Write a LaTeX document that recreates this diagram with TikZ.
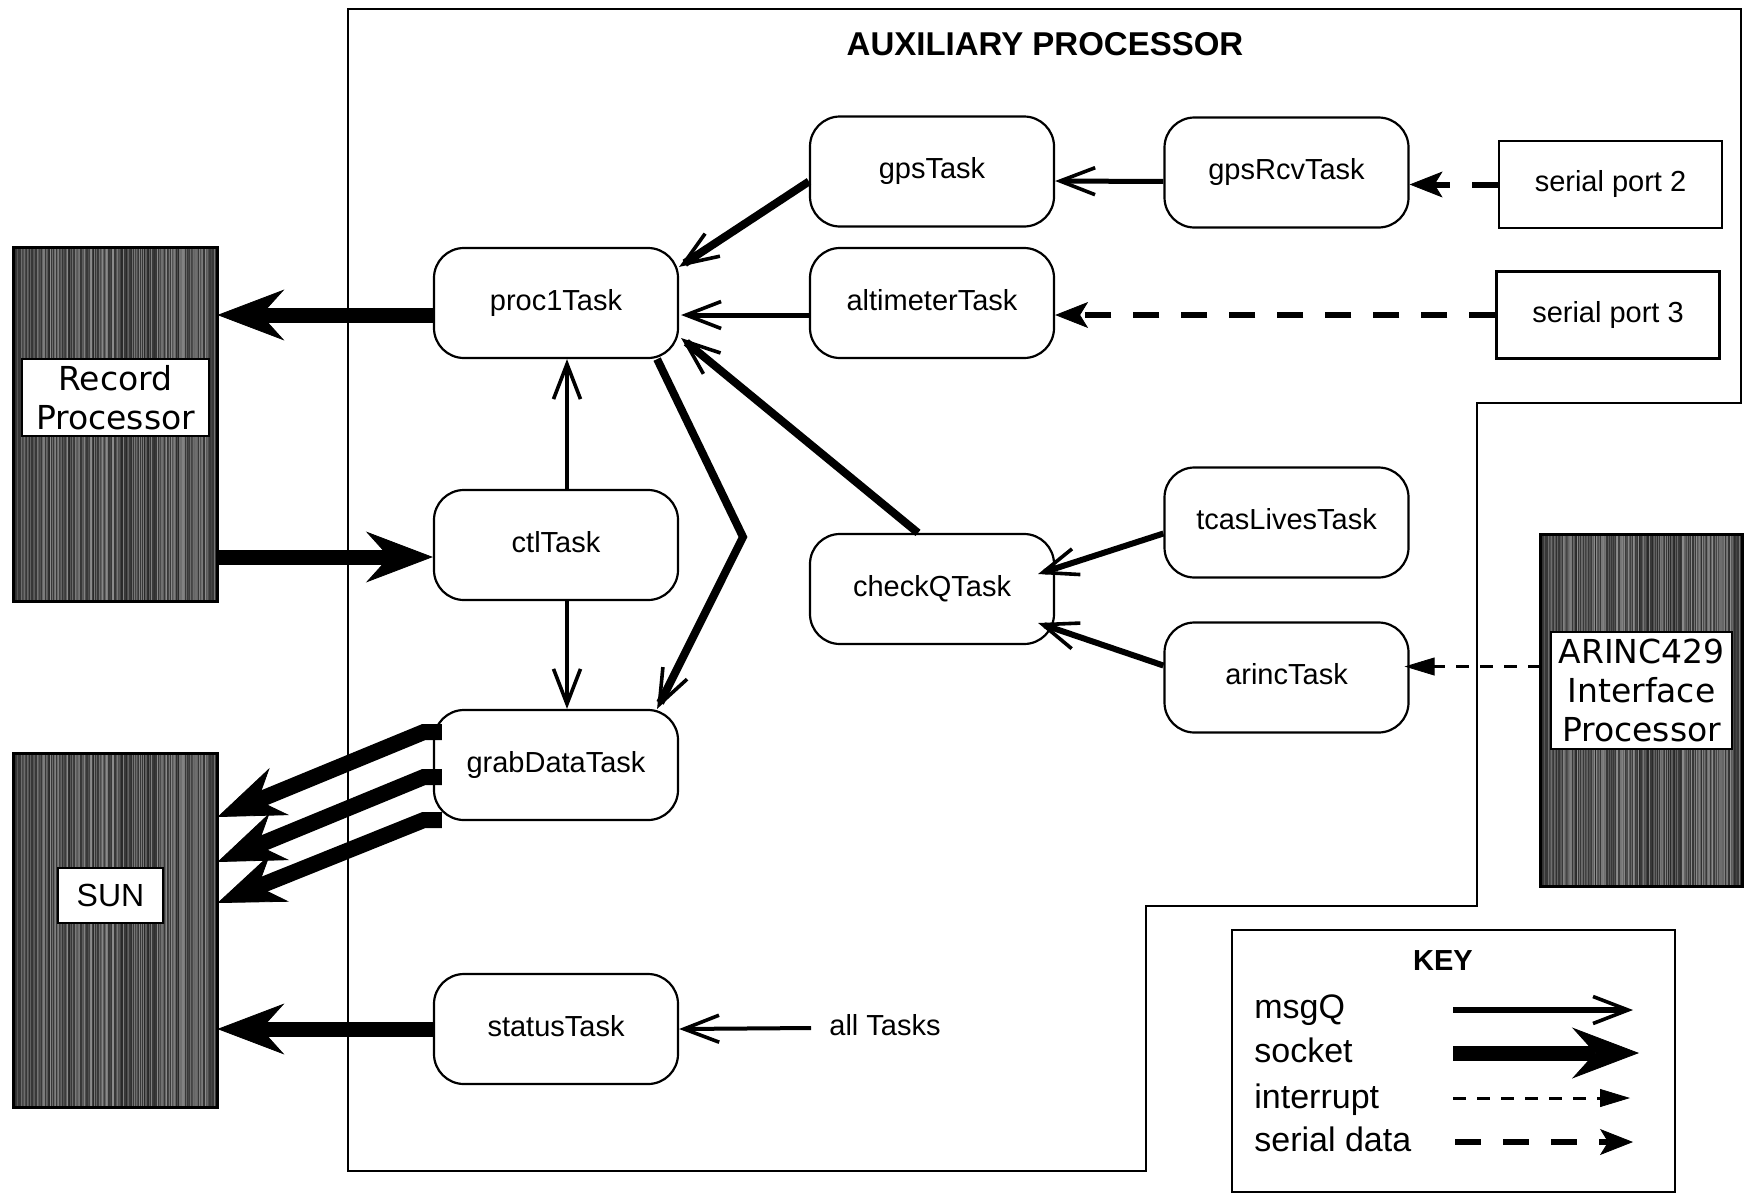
\documentclass[tikz,border=0pt]{standalone}
\usepackage{fontspec}
\setmainfont{Liberation Sans}
\newfontfamily\genevafont{DejaVu Sans}
\usetikzlibrary{arrows.meta,calc}

\newcommand\taskfont{\fontsize{14.5}{17}\selectfont}
\newcommand\boxlabelfont{\genevafont\fontsize{16.5}{19.5}\selectfont}
\newcommand\titlefont{\bfseries\fontsize{16.5}{19}\selectfont}
\newcommand\keytitlefont{\bfseries\fontsize{14.5}{17}\selectfont}
\newcommand\keyfont{\fontsize{17}{20}\selectfont}

\newcommand\drawtexture[1]{%
  \begin{scope}
    \clip (#1.south west) rectangle (#1.north east);
    \pgfmathsetseed{7}
    \foreach \k in {1,...,320}{
      \pgfmathsetmacro\tx{rnd}
      \pgfmathtruncatemacro\tg{45+40*rnd}
      \pgfmathsetmacro\tw{0.15+0.5*rnd}
      \draw[black!\tg, line width=\tw pt]
        ($(#1.south west)!\tx!(#1.south east)$) -- ($(#1.north west)!\tx!(#1.north east)$);
    }
  \end{scope}
  \draw[line width=1.2pt] (#1.south west) rectangle (#1.north east);
}

\begin{document}
\begin{tikzpicture}[x=0.5pt,y=-0.5pt,
  task/.style={draw, line width=1.1pt, rounded corners=15pt, fill=white,
    minimum width=122pt, minimum height=55pt, inner sep=0pt,
    font=\taskfont, text height=0.72em, text depth=0pt},
  port/.style={draw, line width=1.1pt, fill=white,
    minimum width=111.5pt, minimum height=43.5pt, inner sep=0pt,
    font=\taskfont, text height=0.72em, text depth=0pt},
  darkbox/.style={fill=black!78, inner sep=0pt},
  labelbox/.style={draw, line width=1pt, fill=white, inner sep=1pt, font=\boxlabelfont, align=center},
  msgq/.style={line width=2.5pt, -{Straight Barb[length=17.5pt, width=13.5pt, line width=1.8pt]}},
  socket/.style={line width=7.5pt, -{Stealth[length=33.5pt, width=25.5pt, inset=11.5pt, line width=0.4pt]}},
  serial/.style={line width=3pt, dash pattern=on 13pt off 11pt,
    -{Stealth[length=16.5pt, width=13pt, inset=4pt, line width=0.4pt]}},
  interrupt/.style={line width=1.5pt, dash pattern=on 6.5pt off 5.5pt,
    -{Triangle[length=15pt, width=9pt, line width=0.4pt]}},
  keylabel/.style={font=\keyfont, inner sep=0pt, anchor=base west}
]
\useasboundingbox (0,0) rectangle (1744,1194);

% auxiliary processor outline
\draw[line width=1.3pt] (348,9) -- (1741,9) -- (1741,403) -- (1477,403) -- (1477,906)
  -- (1146,906) -- (1146,1171) -- (348,1171) -- cycle;
\node[font=\titlefont] (title) at (1045,44) {AUXILIARY PROCESSOR};

% external processors
\node[darkbox, minimum width=101.5pt, minimum height=176.5pt] (rec) at (115.5,424.5) {};
\drawtexture{rec}
\node[labelbox, minimum width=93.5pt, minimum height=38.5pt] (reclabel) at (115.5,397.5) {Record\\Processor};

\node[darkbox, minimum width=101.5pt, minimum height=176.5pt] (sun) at (115.5,930.5) {};
\drawtexture{sun}
\node[labelbox, font=\fontsize{16}{19}\selectfont, minimum width=52.5pt, minimum height=27.5pt] (sunlabel) at (110.5,895.5) {SUN};

\node[darkbox, minimum width=100.5pt, minimum height=175.5pt] (arincbox) at (1641.5,710.5) {};
\drawtexture{arincbox}
\node[labelbox, minimum width=90.5pt, minimum height=58.5pt] (arinclabel) at (1641.5,690.5) {ARINC429\\Interface\\Processor};

% tasks
\node[task] (gps)    at (932,171.5)    {gpsTask};
\node[task] (gpsRcv) at (1286.5,172.5) {gpsRcvTask};
\node[task] (proc1)  at (556,303)      {proc1Task};
\node[task] (alt)    at (932,303)      {altimeterTask};
\node[task] (ctl)    at (556,545)      {ctlTask};
\node[task] (tcas)   at (1286.5,522.5) {tcasLivesTask};
\node[task] (checkQ) at (932,589)      {checkQTask};
\node[task] (arinc)  at (1286.5,677.5) {arincTask};
\node[task] (grab)   at (556,765)      {grabDataTask};
\node[task] (status) at (556,1029)     {statusTask};

\node[port] (sp2) at (1610.5,184.5) {serial port 2};
\node[port] (sp3) at (1608,315)     {serial port 3};

\node[font=\taskfont, inner xsep=9pt, text height=0.72em, text depth=0pt] (all) at (885,1028) {all Tasks};

% connectors
\coordinate (procout) at ($(proc1.west)+(0,12)$);
\draw[socket] (procout) -- (procout -| rec.east);
\coordinate (ctlin) at ($(ctl.west)+(0,12)$);
\draw[socket] (rec.east |- ctlin) -- (ctlin);
\draw[socket] (status.west) -- (status.west -| sun.east);

\draw[socket, line width=8pt] ($(grab.west)+(9,-33)$) -- ++(-18,0) -- ($(sun.east)+(0,-113.5)$);
\draw[socket, line width=8pt] ($(grab.west)+(9,12)$) -- ++(-18,0) -- ($(sun.east)+(0,-68.5)$);
\draw[socket, line width=8pt] ($(grab.west)+(9,55)$) -- ++(-18,0) -- ($(sun.east)+(0,-27.5)$);

\draw[msgq, line width=4pt] ($(gps.west)+(0,10)$) -- ($(proc1.north east)+(0,20)$);
\draw[msgq] ($(alt.west)+(0,12)$) -- ($(proc1.east)+(2,12)$);
\draw[msgq, line width=4pt] ($(checkQ.north)+(-14,0)$) -- ($(proc1.east)+(2,35)$);
\coordinate (bend) at (743,537);
\draw[msgq, line width=4pt] ($(proc1.south east)+(-22,0)$) -- (bend) -- ($(grab.north east)+(-22,0)$);
\draw[msgq, line width=2pt] ($(ctl.north)+(11,0)$) -- ($(proc1.south)+(11,0)$);
\draw[msgq, line width=2pt] ($(ctl.south)+(11,0)$) -- ($(grab.north)+(11,0)$);
\draw[msgq] ($(gpsRcv.west)+(0,9)$) -- ($(gps.east)+(0,9.5)$);
\draw[serial] (sp2.west) -- ($(gpsRcv.east)+(0,12)$);
\draw[serial] (sp3.west) -- ($(alt.east)+(0,12)$);
\draw[msgq, line width=3pt] ($(tcas.west)+(0,11)$) -- ($(checkQ.east)+(-17,-15)$);
\draw[msgq, line width=3pt] ($(arinc.west)+(0,-12)$) -- ($(checkQ.east)+(-17,34)$);
\coordinate (ain) at ($(arinc.east)+(-5,-11)$);
\draw[interrupt] (arincbox.west |- ain) -- (ain);
\draw[msgq, line width=2pt] (all.west) -- (status.east);

% key
\node[draw, line width=1.1pt, minimum width=221.5pt, minimum height=131pt, inner sep=0pt] (key) at (1453.5,1061) {};
\node[font=\keytitlefont] (keyt) at (1443,961) {KEY};
\node[keylabel] (lmsg) at (1254,1018) {msgQ};
\node[keylabel] (lsock) at (1254,1062) {socket};
\node[keylabel] (lint) at (1254,1108) {interrupt};
\node[keylabel] (lser) at (1254,1151) {serial data};
\coordinate (k1a) at (1453,1010); \coordinate (k1b) at (1633,1010);
\coordinate (k2a) at (1453,1053); \coordinate (k2b) at (1639,1053);
\coordinate (k3a) at (1453,1098); \coordinate (k3b) at (1630,1098);
\coordinate (k4a) at (1455,1142); \coordinate (k4b) at (1633,1142);
\draw[msgq, line width=3pt] (k1a) -- (k1b);
\draw[socket] (k2a) -- (k2b);
\draw[interrupt] (k3a) -- (k3b);
\draw[serial] (k4a) -- (k4b);
\end{tikzpicture}
\end{document}
